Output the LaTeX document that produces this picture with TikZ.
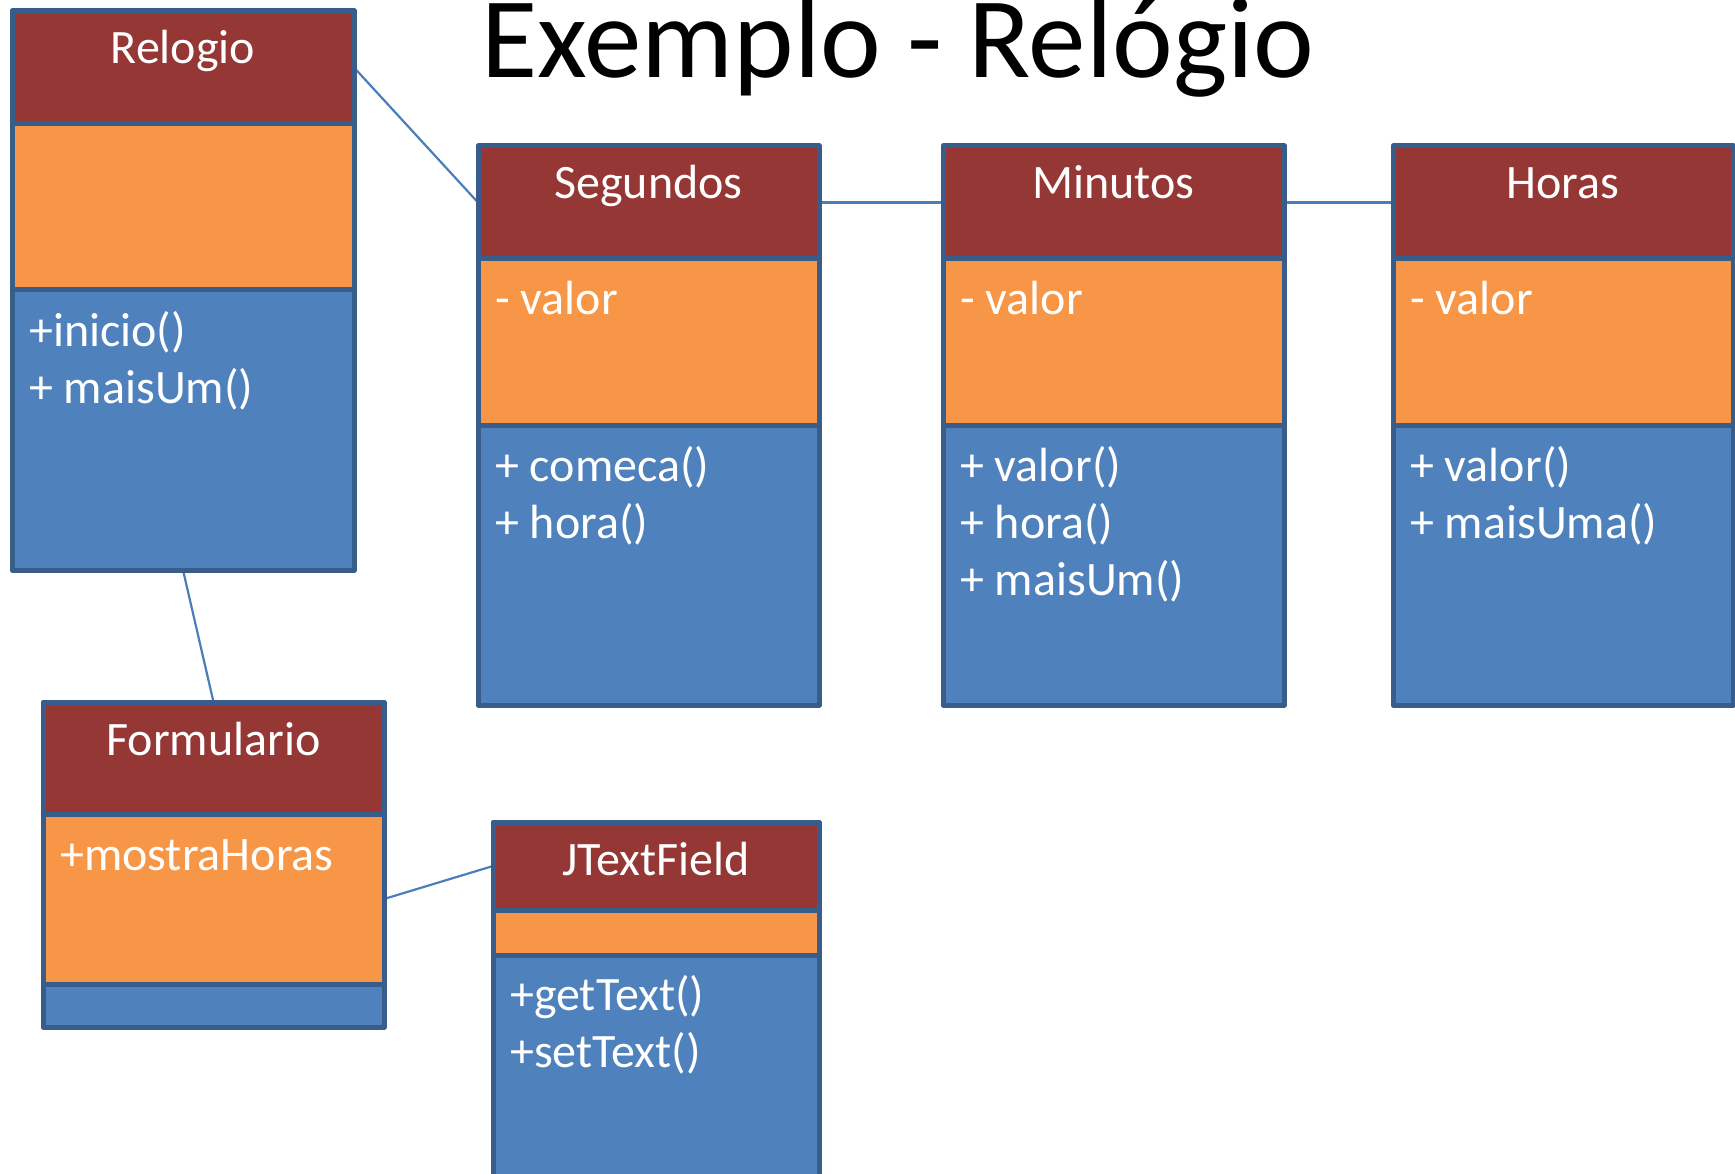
\documentclass[tikz,border=0pt]{standalone}
\usepackage{fontspec}
\setmainfont{Carlito}
\usetikzlibrary{backgrounds}

\definecolor{hdrred}{HTML}{953735}
\definecolor{attrorange}{HTML}{F79646}
\definecolor{opblue}{HTML}{4F81BD}
\definecolor{edgeblue}{HTML}{385D8A}
\definecolor{linkblue}{HTML}{4A7EBB}

\tikzset{
  part/.style={draw=edgeblue, line width=5pt, line join=round, rectangle, inner sep=0pt, outer sep=0pt, anchor=north west},
  head/.style={text=white, font=\fontsize{48}{58}\selectfont, inner sep=0pt, anchor=base},
  item/.style={text=white, font=\fontsize{48}{58}\selectfont, inner sep=0pt, anchor=base west},
  link/.style={draw=linkblue, line width=2.2pt},
}

% class box: name, left, right, top, header bottom, attribute bottom, bottom, title
\newcommand\classbox[8]{%
  \node[part, fill=hdrred, minimum width={#3-#2}, minimum height={#5-#4}] (#1h) at (#2,#4) {};
  \node[part, fill=attrorange, minimum width={#3-#2}, minimum height={#6-#5}] (#1a) at (#2,#5) {};
  \node[part, fill=opblue, minimum width={#3-#2}, minimum height={#7-#6}] (#1m) at (#2,#6) {};
  \node[head] (#1t) at ([yshift=-53pt]#1h.north) {#8};
}

\begin{document}
\begin{tikzpicture}[x=1pt, y=-1pt]
\useasboundingbox (0,0) rectangle (1735,1174);
\clip (0,0) rectangle (1735,1174);

\node[font=\fontsize{115}{130}\selectfont, inner sep=0pt, anchor=base] (title) at (898,78) {Exemplo - Relógio};

\classbox{rel}{12}{354}{11}{124}{290}{570}{Relogio}
\classbox{seg}{478}{819}{146}{259}{425}{705}{Segundos}
\classbox{min}{943}{1284}{146}{259}{425}{705}{Minutos}
\classbox{hor}{1393}{1733}{146}{259}{425}{705}{Horas}
\classbox{form}{43}{384}{702}{814}{984}{1027}{Formulario}
\classbox{jtf}{493}{819}{822}{910}{955}{1250}{JTextField}

% operations of Relogio
\node[item] (relm1) at ([xshift=17pt, yshift=-56pt]relm.north west) {+inicio()};
\node[item] (relm2) at ([xshift=17pt, yshift=-113pt]relm.north west) {+ maisUm()};

% Segundos
\node[item] (sega1) at ([xshift=17pt, yshift=-56pt]sega.north west) {- valor};
\node[item] (segm1) at ([xshift=17pt, yshift=-56pt]segm.north west) {+ comeca()};
\node[item] (segm2) at ([xshift=17pt, yshift=-113pt]segm.north west) {+ hora()};

% Minutos
\node[item] (mina1) at ([xshift=17pt, yshift=-56pt]mina.north west) {- valor};
\node[item] (minm1) at ([xshift=17pt, yshift=-56pt]minm.north west) {+ valor()};
\node[item] (minm2) at ([xshift=17pt, yshift=-113pt]minm.north west) {+ hora()};
\node[item] (minm3) at ([xshift=17pt, yshift=-170pt]minm.north west) {+ maisUm()};

% Horas
\node[item] (hora1) at ([xshift=17pt, yshift=-56pt]hora.north west) {- valor};
\node[item] (horm1) at ([xshift=17pt, yshift=-56pt]horm.north west) {+ valor()};
\node[item] (horm2) at ([xshift=17pt, yshift=-113pt]horm.north west) {+ maisUma()};

% Formulario
\node[item] (forma1) at ([xshift=17pt, yshift=-56pt]forma.north west) {+mostraHoras};

% JTextField
\node[item] (jtfm1) at ([xshift=17pt, yshift=-55pt]jtfm.north west) {+getText()};
\node[item] (jtfm2) at ([xshift=17pt, yshift=-112pt]jtfm.north west) {+setText()};

% associations
\begin{scope}[on background layer]
  \draw[link] (relh.east) -- (segh.west);
  \draw[link] (segh.east) -- (minh.west);
  \draw[link] (minh.east) -- (horh.west);
  \draw[link] (relm.south) -- (formh.north);
  \draw[link] (forma.east) -- (jtfh.west);
\end{scope}
\end{tikzpicture}
\end{document}
